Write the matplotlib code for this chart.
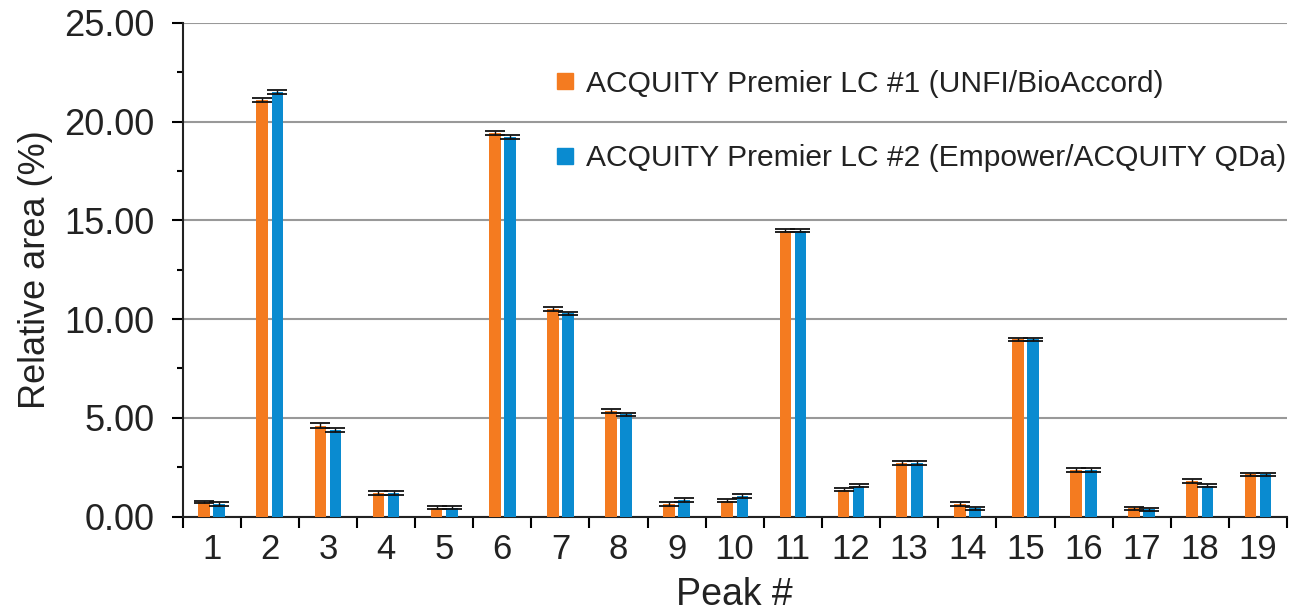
import matplotlib.pyplot as plt
import numpy as np
from matplotlib.lines import Line2D

plt.rcParams['font.family'] = ['Liberation Sans', 'DejaVu Sans']

peaks = [str(i) for i in range(1, 20)]
lc1 = [0.75, 21.09, 4.60, 1.20, 0.46, 19.42, 10.49, 5.36, 0.64, 0.81,
       14.47, 1.36, 2.71, 0.64, 8.98, 2.34, 0.42, 1.82, 2.15]
lc2 = [0.64, 21.49, 4.40, 1.20, 0.46, 19.21, 10.29, 5.18, 0.84, 1.02,
       14.47, 1.56, 2.71, 0.42, 8.98, 2.34, 0.38, 1.56, 2.15]
err1 = [0.05, 0.10, 0.12, 0.10, 0.08, 0.10, 0.10, 0.10, 0.08, 0.08,
        0.08, 0.08, 0.08, 0.08, 0.08, 0.10, 0.08, 0.10, 0.08]
err2 = [0.08, 0.10, 0.10, 0.10, 0.08, 0.10, 0.08, 0.08, 0.08, 0.10,
        0.08, 0.08, 0.08, 0.08, 0.08, 0.10, 0.08, 0.08, 0.08]
labels = ["ACQUITY Premier LC #1 (UNFI/BioAccord)",
          "ACQUITY Premier LC #2 (Empower/ACQUITY QDa)"]
orange = "#F47B20"
blue = "#0A8BD0"

fig = plt.figure(figsize=(13.04, 6.15), dpi=100)
ax = fig.add_axes([0.140, 0.160, 0.847, 0.803])

x = np.arange(1, 20)
w = 0.2
off = 0.13
ax.bar(x - off, lc1, w, color=orange, zorder=3)
ax.bar(x + off, lc2, w, color=blue, zorder=3)
ax.errorbar(x - off, lc1, yerr=err1, fmt='none', ecolor='#111111',
            elinewidth=1.0, capsize=7, capthick=1.3, zorder=4)
ax.errorbar(x + off, lc2, yerr=err2, fmt='none', ecolor='#111111',
            elinewidth=1.0, capsize=7, capthick=1.3, zorder=4)

ax.set_xlim(0.5, 19.5)
ax.set_ylim(0, 25)
ax.set_yticks(np.arange(0, 26, 5))
ax.set_yticklabels([f"{v:.2f}" for v in np.arange(0, 26, 5)])
ax.set_yticks(np.arange(2.5, 25, 5), minor=True)
ax.yaxis.grid(True, color='#999999', linewidth=1.5, zorder=0)
ax.set_axisbelow(True)

ax.set_xticks(x)
ax.set_xticklabels(peaks)
ax.tick_params(axis='x', length=0, pad=12, labelsize=25, colors='#222222')
ax.set_xticks(np.arange(0.5, 20, 1), minor=True)
ax.tick_params(axis='x', which='minor', length=8, width=1.5, direction='out')
ax.tick_params(axis='y', which='major', length=8, width=1.5, labelsize=26,
               pad=12, labelcolor='#222222')
ax.tick_params(axis='y', which='minor', length=4, width=1.5)

for s in ['top', 'right']:
    ax.spines[s].set_visible(False)
for s in ['left', 'bottom']:
    ax.spines[s].set_linewidth(1.5)
    ax.spines[s].set_color('#222222')

ax.set_xlabel("Peak #", fontsize=27, labelpad=8, color='#222222')
ax.set_ylabel("Relative area (%)", fontsize=26, labelpad=8, color='#222222')

handles = [Line2D([], [], marker='s', linestyle='none', color=orange, markersize=11),
           Line2D([], [], marker='s', linestyle='none', color=blue, markersize=11)]
ax.legend(handles, labels, loc='upper right', bbox_to_anchor=(1.024, 0.96),
          frameon=False, fontsize=21.6, labelspacing=1.55, handletextpad=0.2,
          handlelength=1.0, labelcolor='#222222')

fig.savefig("out.png", dpi=100)
